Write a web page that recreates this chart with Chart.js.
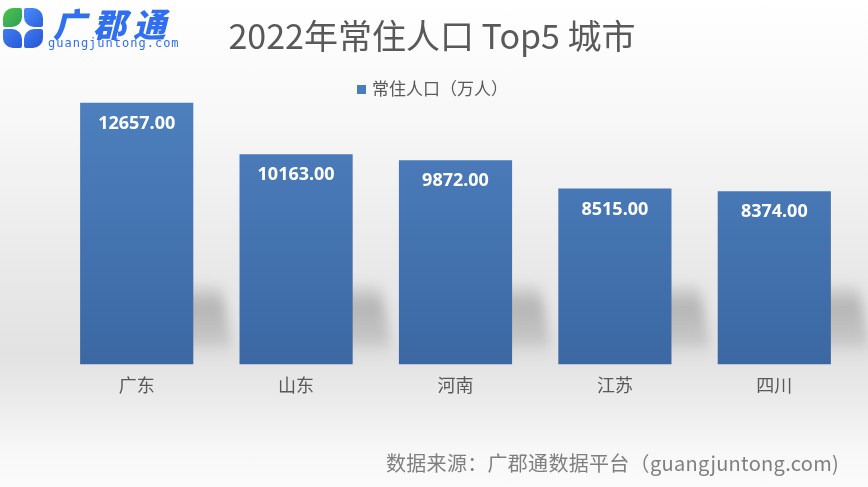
<!DOCTYPE html>
<html>
<head>
<meta charset="utf-8">
<script src="https://cdn.jsdelivr.net/npm/chart.js@4"></script>
<style>
  html, body { margin: 0; padding: 0; }
  body {
    width: 868px; height: 487px; overflow: hidden; position: relative;
    background: linear-gradient(to bottom, #ffffff 0%, #f7f7f7 25%, #e9e9e9 55%, #e2e2e2 73%, #ececec 83%, #f7f7f7 92%, #fbfbfb 100%);
    font-family: "Noto Sans CJK SC", "Noto Sans", sans-serif;
  }
  #wrap { position: absolute; left: 0; top: 0; width: 868px; height: 487px; }
  .logo { position: absolute; left: 3px; top: 8px; width: 190px; height: 45px; }
  .blob { position: absolute; width: 19px; height: 19px; }
  .b1 { left: 0; top: 0; border-radius: 10px 2px 10px 2px; background: linear-gradient(135deg, #4cc44a, #2f9f5a); }
  .b2 { left: 21px; top: 0; border-radius: 2px 10px 2px 10px; background: linear-gradient(135deg, #4b8cf5, #2b62e0); }
  .b3 { left: 0; top: 21px; border-radius: 2px 10px 2px 10px; background: linear-gradient(135deg, #3f7cf0, #2a5ad8); }
  .b4 { left: 21px; top: 21px; border-radius: 10px 2px 10px 2px; background: linear-gradient(135deg, #3f7cf0, #2553d4); }
  .logo-cn { position: absolute; left: 50px; top: -9px; font-size: 33px; font-weight: 900; font-style: italic; color: #2f6ff0; letter-spacing: 7px; }
  .logo-en { position: absolute; left: 45px; top: 28px; font-size: 12px; font-family: "DejaVu Sans Mono", monospace; color: #2f6ff0; letter-spacing: 1px; }
  .footer { position: absolute; left: 386px; top: 448px; font-size: 20px; color: #7f7f7f; white-space: nowrap; letter-spacing: 0.3px; }
</style>
</head>
<body>
<div id="wrap"><canvas id="canvas1" width="868" height="487"></canvas></div>
<div class="logo">
  <div class="blob b1"></div><div class="blob b2"></div>
  <div class="blob b3"></div><div class="blob b4"></div>
  <div class="logo-cn">广郡通</div>
  <div class="logo-en">guangjuntong.com</div>
</div>
<div class="footer">数据来源：广郡通数据平台（guangjuntong.com)</div>
<script>
var provinces = ["广东", "山东", "河南", "江苏", "四川"];
var population = [12657, 10163, 9872, 8515, 8374];
var seriesName = "常住人口（万人）";
var chartTitle = "2022年常住人口 Top5 城市";

// soft grey shadow behind each bar, like the excel one
var barShadow = {
  id: "barShadow",
  beforeDatasetsDraw: function (chart) {
    var ctx = chart.ctx;
    var base = chart.scales.y.getPixelForValue(0);
    chart.getDatasetMeta(0).data.forEach(function (bar) {
      var w = bar.width;
      var left = bar.x - w / 2 + 25;
      var right = bar.x + w / 2 + 40;
      ctx.save();
      ctx.filter = "blur(6px)";
      var g = ctx.createLinearGradient(0, base - 85, 0, base - 8);
      g.addColorStop(0, "rgba(150,150,150,0)");
      g.addColorStop(0.35, "rgba(160,160,160,0.7)");
      g.addColorStop(0.8, "rgba(175,175,175,0.55)");
      g.addColorStop(1, "rgba(200,200,200,0)");
      ctx.fillStyle = g;
      ctx.beginPath();
      ctx.moveTo(left, base - 80);
      ctx.lineTo(right - 12, base - 80);
      ctx.lineTo(right, base - 10);
      ctx.lineTo(left + 12, base - 10);
      ctx.closePath();
      ctx.fill();
      ctx.restore();
    });
  }
};

// title and legend drawn over the top of the plot, like in the excel chart
var header = {
  id: "header",
  afterDraw: function (chart) {
    var ctx = chart.ctx;
    ctx.save();
    ctx.textBaseline = "middle";
    ctx.fillStyle = "#595959";
    ctx.textAlign = "center";
    ctx.font = "34px 'Noto Sans CJK SC', sans-serif";
    ctx.fillText(chartTitle, 432, 36);

    ctx.font = "17px 'Noto Sans CJK SC', sans-serif";
    ctx.fillStyle = "#4a7dbb";
    ctx.fillRect(357, 85, 9, 9);
    ctx.fillStyle = "#595959";
    ctx.textAlign = "left";
    ctx.fillText(seriesName, 372, 89);
    ctx.restore();
  }
};

var valueLabels = {
  id: "valueLabels",
  afterDatasetsDraw: function (chart) {
    var ctx = chart.ctx;
    ctx.save();
    ctx.fillStyle = "#ffffff";
    ctx.font = "bold 18px 'Noto Sans', 'Open Sans', sans-serif";
    ctx.textAlign = "center";
    ctx.textBaseline = "middle";
    chart.getDatasetMeta(0).data.forEach(function (bar, i) {
      ctx.fillText(population[i].toFixed(2), bar.x, bar.y + 21);
    });
    ctx.restore();
  }
};

var data = {
  labels: provinces,
  datasets: [
    {
      label: seriesName,
      data: population,
      categoryPercentage: 1,
      barPercentage: 0.71,
      backgroundColor: function (c) {
        var area = c.chart.chartArea;
        if (!area) return "#4a7dbb";
        var g = c.chart.ctx.createLinearGradient(0, area.top, 0, area.bottom);
        g.addColorStop(0, "#4f82c0");
        g.addColorStop(1, "#3b68a3");
        return g;
      },
      borderWidth: 0,
    },
  ],
};

var options = {
  responsive: false,
  animation: false,
  layout: { padding: { left: 57, right: 14, top: 75, bottom: 89 } },
  plugins: {
    title: { display: false },
    legend: { display: false },
    tooltip: { enabled: false },
  },
  scales: {
    x: {
      grid: { display: false },
      border: { display: false },
      ticks: {
        color: "#595959",
        padding: 2,
        font: { size: 18, family: "'Noto Sans CJK SC', sans-serif" },
      },
    },
    y: {
      display: false,
      min: 0,
      max: 14000,
    },
  },
};

var config = {
  type: "bar",
  data: data,
  options: options,
  plugins: [barShadow, valueLabels, header],
};
var chart = new Chart(document.getElementById("canvas1"), config);
</script>
</body>
</html>
